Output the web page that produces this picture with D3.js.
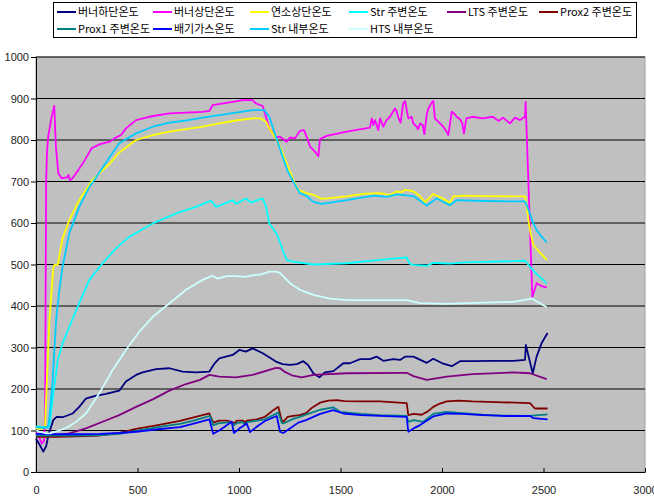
<!DOCTYPE html>
<html>
<head>
<meta charset="utf-8">
<script src="https://cdn.jsdelivr.net/npm/d3@7"></script>
<style>
  body { margin: 0; background: #fff; }
  svg text { font-family: "Liberation Sans", Arial, sans-serif; }
  .legend text { font-family: "Noto Sans CJK KR", "Noto Sans", sans-serif; }
</style>
</head>
<body>
<script>
// tick labels
var xTicks = [0, 500, 1000, 1500, 2000, 2500, 3000];
var yTicks = [0, 100, 200, 300, 400, 500, 600, 700, 800, 900, 1000];

var seriesNames = ['버너하단온도', '버너상단온도', '연소상단온도', 'Str 주변온도', 'LTS 주변온도', 'Prox2 주변온도',
                   'Prox1 주변온도', '배기가스온도', 'Str 내부온도', 'HTS 내부온도'];
var colors = ['#000080', '#ff00ff', '#ffff00', '#00ffff', '#800080', '#800000',
              '#008080', '#0000ff', '#00ccff', '#ccffff'];

// [time, temperature]
var burnerLow = [[0,80],[15,68],[36,49],[50,62],[61,89],[85,125],[102,133],[131,132],[181,141],[213,157],[246,177],[287,183],[345,188],[410,196],[443,218],[493,234],[525,240],[591,248],[657,250],[722,242],[788,240],[854,242],[880,262],[903,274],[969,282],[1002,294],[1034,290],[1067,298],[1117,286],[1182,266],[1215,260],[1250,258],[1285,260],[1317,267],[1340,258],[1366,238],[1396,228],[1423,240],[1465,243],[1514,262],[1547,262],[1596,272],[1645,272],[1678,278],[1711,268],[1760,272],[1793,270],[1818,278],[1859,278],[1925,263],[1957,273],[2006,261],[2048,255],[2089,267],[2150,267],[2250,268],[2351,268],[2409,270],[2413,306],[2447,238],[2466,278],[2491,311],[2520,335]];

var burnerHigh = [[0,95],[15,85],[28,69],[40,75],[45,150],[48,500],[50,700],[54,770],[60,808],[77,856],[90,882],[98,784],[110,720],[126,708],[154,710],[160,716],[167,703],[180,708],[209,728],[241,752],[274,780],[315,790],[365,796],[386,804],[419,812],[443,828],[493,848],[558,856],[657,864],[821,868],[854,870],[870,884],[969,892],[1018,896],[1067,896],[1084,888],[1117,882],[1133,856],[1149,828],[1182,806],[1202,808],[1235,796],[1251,806],[1276,804],[1300,822],[1320,824],[1333,808],[1350,784],[1374,772],[1391,761],[1399,802],[1432,810],[1531,820],[1645,830],[1654,852],[1662,836],[1670,848],[1686,824],[1695,852],[1711,832],[1727,848],[1744,856],[1768,876],[1777,868],[1786,852],[1796,842],[1809,888],[1818,894],[1834,852],[1850,856],[1859,840],[1875,832],[1882,826],[1892,840],[1905,836],[1913,814],[1925,862],[1933,876],[1949,890],[1957,894],[1965,852],[1990,840],[2006,832],[2023,820],[2031,812],[2048,868],[2060,864],[2072,856],[2089,850],[2100,840],[2108,816],[2120,852],[2150,856],[2200,852],[2250,856],[2280,846],[2300,854],[2335,840],[2360,854],[2384,848],[2409,856],[2412,892],[2445,422],[2466,455],[2490,448],[2516,445]];

var combTop = [[0,105],[30,104],[44,108],[52,200],[66,366],[85,490],[90,499],[107,499],[131,563],[164,607],[213,655],[279,704],[330,728],[365,744],[410,770],[493,800],[575,812],[657,820],[821,832],[903,840],[985,847],[1067,852],[1108,852],[1133,844],[1149,828],[1182,804],[1202,784],[1235,744],[1267,704],[1292,680],[1333,672],[1366,668],[1407,658],[1448,660],[1531,664],[1612,670],[1694,672],[1744,668],[1777,676],[1800,674],[1818,680],[1859,676],[1892,665],[1916,650],[1957,670],[2000,660],[2039,649],[2056,664],[2105,666],[2200,665],[2350,664],[2409,664],[2417,639],[2433,583],[2450,547],[2466,538],[2516,511]];

var strAround = [[0,110],[40,108],[60,107],[66,112],[78,160],[90,205],[107,270],[131,310],[164,350],[213,407],[263,463],[328,503],[394,539],[460,567],[575,599],[690,623],[788,639],[862,654],[887,639],[920,645],[969,655],[985,646],[1034,659],[1059,649],[1090,655],[1117,659],[1133,639],[1149,599],[1170,585],[1190,570],[1215,535],[1235,511],[1267,507],[1366,500],[1531,503],[1694,511],[1826,517],[1840,502],[1859,499],[1925,497],[1957,504],[2000,503],[2039,502],[2114,505],[2350,508],[2409,509],[2433,495],[2466,477],[2516,455]];

var ltsAround = [[0,87],[100,89],[164,93],[246,105],[328,121],[410,137],[493,157],[575,175],[657,196],[739,212],[808,222],[854,234],[903,230],[985,228],[1067,234],[1149,246],[1182,251],[1202,250],[1223,242],[1260,233],[1309,228],[1366,234],[1531,238],[1826,239],[1859,231],[1925,222],[2023,230],[2150,236],[2351,240],[2433,238],[2516,224]];

var prox2 = [[0,85],[100,85],[200,86],[312,88],[410,94],[493,104],[600,113],[709,123],[772,131],[854,141],[873,119],[903,124],[940,124],[964,121],[975,117],[990,124],[1018,124],[1030,120],[1040,124],[1087,127],[1128,133],[1169,149],[1194,157],[1210,125],[1218,121],[1240,133],[1267,135],[1300,137],[1330,142],[1360,155],[1399,167],[1440,172],[1481,173],[1520,171],[1600,170],[1694,170],[1826,166],[1834,137],[1860,140],[1900,138],[1930,146],[1957,157],[1990,165],[2023,170],[2080,172],[2150,170],[2300,168],[2433,166],[2458,153],[2520,153]];

var prox1 = [[0,88],[100,88],[200,88],[312,89],[410,92],[493,99],[600,108],[709,116],[772,123],[857,135],[873,113],[903,118],[964,120],[975,113],[990,118],[1018,120],[1030,114],[1040,120],[1128,127],[1169,137],[1194,143],[1210,119],[1218,117],[1267,128],[1300,133],[1340,140],[1400,150],[1464,156],[1497,145],[1600,140],[1694,137],[1826,135],[1834,121],[1860,125],[1908,121],[1957,140],[2023,145],[2100,142],[2200,138],[2300,136],[2433,135],[2520,139]];

var exhaust = [[0,92],[100,91],[200,91],[312,92],[410,94],[493,97],[600,103],[709,108],[772,116],[854,127],[873,92],[903,100],[964,121],[975,94],[1000,104],[1038,117],[1054,96],[1087,109],[1128,123],[1186,135],[1202,97],[1218,94],[1251,105],[1292,119],[1330,125],[1400,140],[1464,149],[1514,141],[1600,137],[1694,135],[1826,133],[1834,97],[1860,105],[1892,113],[1957,134],[2023,141],[2100,140],[2200,137],[2300,135],[2433,135],[2450,130],[2520,127]];

var strInner = [[0,108],[40,106],[60,110],[66,130],[82,222],[99,366],[115,439],[131,495],[164,575],[213,639],[263,687],[299,712],[365,760],[410,792],[493,816],[575,832],[657,842],[739,847],[821,854],[903,860],[985,866],[1067,872],[1125,872],[1149,856],[1182,808],[1215,760],[1240,725],[1267,700],[1300,672],[1333,665],[1366,651],[1407,646],[1531,655],[1662,666],[1727,663],[1777,669],[1859,665],[1925,642],[1974,659],[2039,643],[2072,655],[2200,653],[2350,652],[2409,652],[2433,623],[2450,599],[2466,583],[2491,567],[2516,553]];

var htsInner = [[0,100],[49,93],[69,93],[131,103],[164,110],[200,122],[246,141],[312,190],[378,246],[443,294],[509,338],[575,374],[657,406],[739,439],[821,463],[870,473],[895,466],[940,472],[985,472],[1030,470],[1067,474],[1110,476],[1149,483],[1182,483],[1202,480],[1251,455],[1300,439],[1366,427],[1448,418],[1531,414],[1700,414],[1826,414],[1892,407],[2023,405],[2200,408],[2351,410],[2442,418],[2516,397]];

var allSeries = [burnerLow, burnerHigh, combTop, strAround, ltsAround, prox2, prox1, exhaust, strInner, htsInner];

var W = 654, H = 502;
var plotL = 36, plotR = 645, plotT = 57, plotB = 472;

var svg = d3.select('body').append('svg')
  .attr('width', W)
  .attr('height', H);

var x = d3.scaleLinear().domain([0, 3000]).range([plotL, plotR]);
var y = d3.scaleLinear().domain([0, 1000]).range([plotB, plotT]);

// plot background
svg.append('rect')
  .attr('x', plotL)
  .attr('y', plotT)
  .attr('width', plotR - plotL)
  .attr('height', plotB - plotT)
  .attr('fill', '#c0c0c0')
  .attr('stroke', '#a0a0a0');

// gridlines
svg.append('g')
  .selectAll('line')
  .data(yTicks.slice(1))
  .enter()
  .append('line')
  .attr('x1', plotL)
  .attr('x2', plotR)
  .attr('y1', d => y(d))
  .attr('y2', d => y(d))
  .attr('stroke', '#000')
  .attr('stroke-width', 1);

// axes
var yAxis = svg.append('g')
  .attr('transform', 'translate(' + plotL + ',0)')
  .call(d3.axisLeft(y).tickValues(yTicks).tickFormat(d3.format('d'))
    .tickSize(5).tickSizeOuter(0).tickPadding(2));

var xAxis = svg.append('g')
  .attr('transform', 'translate(0,' + plotB + ')')
  .call(d3.axisBottom(x).tickValues(xTicks).tickFormat(d3.format('d'))
    .tickSizeInner(-4).tickSizeOuter(0).tickPadding(14));

[yAxis, xAxis].forEach(function(g){
  g.selectAll('text').style('font-size', '11px').attr('fill', '#222');
  g.select('.domain').attr('stroke', '#000');
  g.selectAll('.tick line').attr('stroke', '#000');
});

// series lines
var line = d3.line()
  .x(d => x(d[0]))
  .y(d => y(d[1]));

svg.append('g')
  .selectAll('path')
  .data(allSeries)
  .enter()
  .append('path')
  .attr('d', line)
  .attr('fill', 'none')
  .attr('stroke', (d, i) => colors[i])
  .attr('stroke-width', 1.8)
  .attr('stroke-linejoin', 'round');

// legend
var legend = svg.append('g').attr('class', 'legend');

legend.append('rect')
  .attr('x', 53.5)
  .attr('y', 2.5)
  .attr('width', 583)
  .attr('height', 35)
  .attr('fill', '#fff')
  .attr('stroke', '#000');

var colX = [57, 153, 250, 349, 447, 539];
var item = legend.selectAll('g.item')
  .data(seriesNames)
  .enter()
  .append('g')
  .attr('class', 'item')
  .attr('transform', (d, i) => 'translate(' + colX[i % 6] + ',' + (i < 6 ? 12 : 29) + ')');

item.append('line')
  .attr('x1', 0)
  .attr('x2', 19)
  .attr('stroke', (d, i) => colors[i])
  .attr('stroke-width', 2);

item.append('text')
  .attr('x', 21)
  .attr('dy', '0.36em')
  .style('font-size', '11px')
  .attr('fill', '#000')
  .text(d => d);
</script>
</body>
</html>
